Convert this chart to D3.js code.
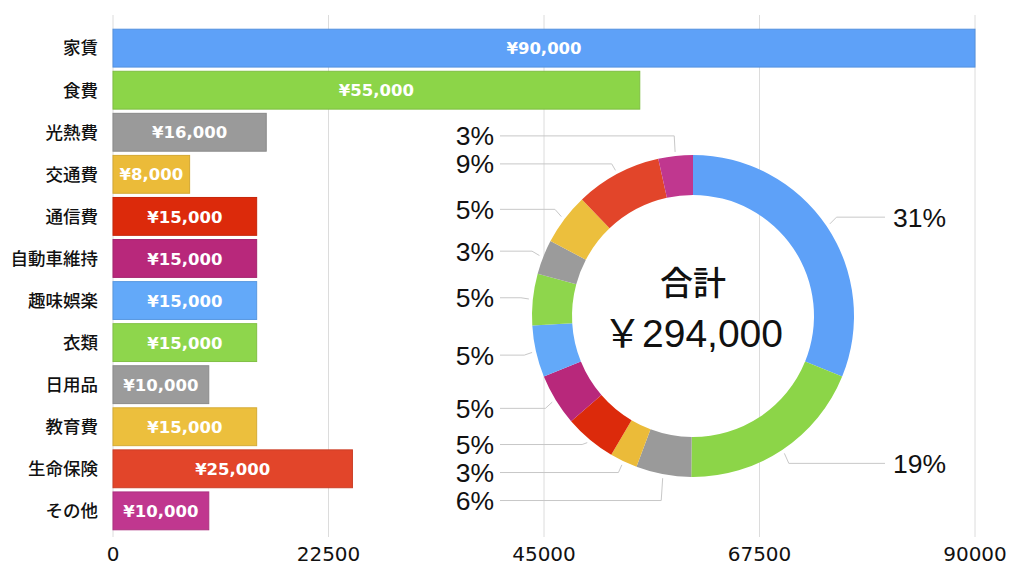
<!DOCTYPE html>
<html><head><meta charset="utf-8">
<script src="https://cdn.jsdelivr.net/npm/d3@7"></script>
<style>
html,body{margin:0;padding:0;background:#fff;}
svg{display:block;}
text{font-family:"Liberation Sans","Helvetica Neue",Helvetica,Arial,"Noto Sans CJK JP",sans-serif;}
</style></head>
<body>
<svg id="chart" width="1024" height="576"></svg>
<script>
const categories = ["家賃","食費","光熱費","交通費","通信費","自動車維持","趣味娯楽","衣類","日用品","教育費","生命保険","その他"];
const values = [90000,55000,16000,8000,15000,15000,15000,15000,10000,15000,25000,10000];
const colors = ["#5ea1f8","#8cd548","#9a9a9a","#ebbb39","#dc2a0b","#b8287b","#63a9f9","#8ed64c","#9b9b9b","#ecbf3d","#e2452a","#c0378f"];
const tickValues = [0,22500,45000,67500,90000];
const totalLabel = "￥294,000";
const totalTitle = "合計";

const svg = d3.select("#chart");
const x = d3.scaleLinear().domain([0,90000]).range([113,975]);
const y = d3.scaleBand().domain(categories).range([25,534]).paddingInner(0.1).paddingOuter(0.1);

// gridlines
svg.append("g").selectAll("line").data(tickValues).join("line")
  .attr("x1",d=>x(d)).attr("x2",d=>x(d)).attr("y1",15).attr("y2",537)
  .attr("stroke","#dcdcdc").attr("stroke-width",1);

// x axis labels
svg.append("g").selectAll("text").data(tickValues).join("text")
  .attr("x",d=>x(d)).attr("y",554).attr("dy","0.36em").attr("text-anchor","middle")
  .attr("font-size",20).attr("fill","#111").style("font-family","'DejaVu Sans',sans-serif").text(d=>d);

// bars
const data = categories.map((c,i)=>({cat:c,value:values[i],color:colors[i]}));
svg.append("g").selectAll("rect").data(data).join("rect")
  .attr("x",x(0)).attr("y",d=>y(d.cat)).attr("width",d=>x(d.value)-x(0)).attr("height",y.bandwidth())
  .attr("fill",d=>d.color).attr("stroke",d=>d3.color(d.color).darker(0.3)).attr("stroke-width",1);

svg.append("g").selectAll("text").data(data).join("text")
  .attr("x",d=>(x(0)+x(d.value))/2).attr("y",d=>y(d.cat)+y.bandwidth()/2).attr("dy","0.37em")
  .attr("text-anchor","middle").attr("font-size",16.5).attr("font-weight",700).attr("fill","#fff")
  .style("font-family","'DejaVu Sans',sans-serif")
  .text(d=>"¥"+d3.format(",")(d.value));

// category labels
svg.append("g").selectAll("text").data(data).join("text")
  .attr("x",98).attr("y",d=>y(d.cat)+y.bandwidth()/2).attr("dy","0.36em")
  .attr("text-anchor","end").attr("font-size",17.5).attr("font-weight",500).attr("fill","#111")
  .style("font-family","'Noto Sans CJK JP',sans-serif")
  .text(d=>d.cat);

// donut
const cx=693, cy=316, R=161, r0=121;
const total = d3.sum(values);
const pie = d3.pie().value(d=>d.value).sort(null);
const arcs = pie(data);
const arc = d3.arc().innerRadius(r0).outerRadius(R);
const g = svg.append("g").attr("transform",`translate(${cx},${cy})`);
g.selectAll("path").data(arcs).join("path").attr("d",arc).attr("fill",d=>d.data.color);

g.append("text").attr("x",0).attr("y",-33).attr("dy","0.36em").attr("text-anchor","middle")
  .attr("font-size",33).attr("font-weight",500).attr("fill","#111")
  .style("font-family","'Noto Sans CJK JP',sans-serif").text(totalTitle);
g.append("text").attr("x",0).attr("y",17).attr("dy","0.36em").attr("text-anchor","middle")
  .attr("font-size",39).attr("fill","#111").text(totalLabel);

// labels
const labs = arcs.map(a=>{
  const m=(a.startAngle+a.endAngle)/2;
  return {a:a, m:m, side: Math.sin(m)>=0?1:-1, y: -177*Math.cos(m),
    pct: Math.round(a.data.value/total*100)+"%"};
});
function relax(list){
  list.sort((p,q)=>p.y-q.y);
  const gap=28;
  for(let it=0;it<200;it++){
    for(let i=1;i<list.length;i++){
      const d=list[i].y-list[i-1].y;
      if(d<gap){const s=(gap-d)/2; list[i].y+=s; list[i-1].y-=s;}
    }
  }
}
relax(labs.filter(l=>l.side<0));
relax(labs.filter(l=>l.side>0));

const lineG = g.append("g");
labs.forEach(l=>{
  const p0=[ (R+4)*Math.sin(l.m), -(R+4)*Math.cos(l.m)];
  const ex=(R+12)*Math.sin(l.m);
  const p1=[ex, l.y];
  const p2=[l.side>0? 885-cx : 500-cx, l.y];
  lineG.append("path").attr("d",d3.line()([p0,p1,p2])).attr("fill","none")
    .attr("stroke","#c8c8c8").attr("stroke-width",1);
  g.append("text").attr("x",l.side>0? 893-cx : 494-cx).attr("y",l.y).attr("dy","0.36em")
    .attr("text-anchor",l.side>0?"start":"end").attr("font-size",26.5).attr("fill","#111").text(l.pct);
});
</script>
</body></html>
